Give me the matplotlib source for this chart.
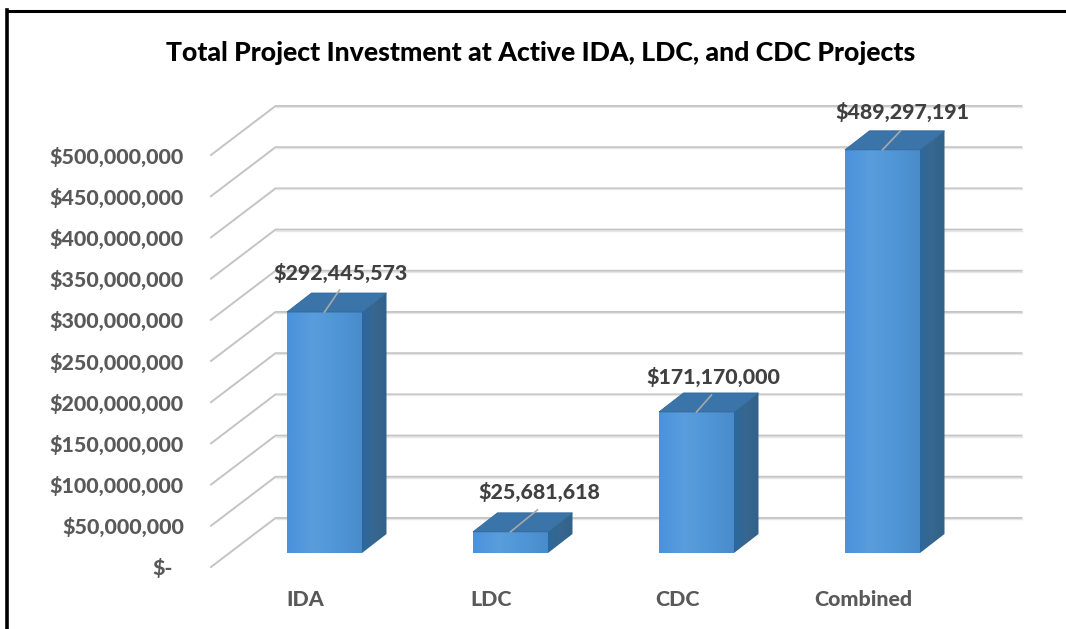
import numpy as np
import matplotlib
matplotlib.use("Agg")
import matplotlib.pyplot as plt
from matplotlib.colors import LinearSegmentedColormap
from matplotlib.patches import Polygon

categories = ["IDA", "LDC", "CDC", "Combined"]
values = [292445573, 25681618, 171170000, 489297191]
value_labels = ["$292,445,573", "$25,681,618", "$171,170,000", "$489,297,191"]
tick_values = [0, 50000000, 100000000, 150000000, 200000000, 250000000,
               300000000, 350000000, 400000000, 450000000, 500000000]
tick_labels = ["$-", "$50,000,000", "$100,000,000", "$150,000,000", "$200,000,000",
               "$250,000,000", "$300,000,000", "$350,000,000", "$400,000,000",
               "$450,000,000", "$500,000,000"]
title = "Total Project Investment at Active IDA, LDC, and CDC Projects"

W, H = 1066, 629
px_per_dollar = 41.2 / 50000000
px_per_cat = 186.0
bar_w = 75 / px_per_cat

# hand placed data labels and leader ends, pixels from the top centre of each bar
label_dx = [16.5, 28.5, 17, 19.5]
label_dy = [39, 40, 35, 38]
leader_dx = [15, 27, 15, 18]
leader_dy = [22, 22, 17, 19]

plt.rcParams["font.family"] = ["Lato", "DejaVu Sans"]
fig = plt.figure(figsize=(W / 100, H / 100), dpi=100)
ax = fig.add_axes([0, 0, 1, 1])
ax.axis("off")

# full figure axes, base of the bars sits 553 px down, first bar centre 324.5 px across
ax.set_xlim(-324.5 / px_per_cat, (W - 324.5) / px_per_cat)
ax.set_ylim(-(H - 553) / px_per_dollar, 553 / px_per_dollar)


def dx(px):
    return px / px_per_cat


def dy(px):
    return px / px_per_dollar


# the front floor edge is 14 px below the bars, the back wall 49 px above that
front_x, front_y = -113.5, -14
depth_x, depth_y = 64.5, 49
wall_w = 746

for v in tick_values:
    x0 = dx(front_x)
    y0 = v + dy(front_y)
    x1 = x0 + dx(depth_x)
    y1 = y0 + dy(depth_y)
    ax.plot([x0, x1, x1 + dx(wall_w)], [y0, y1, y1], color="#c4c4c4", lw=1.4,
            solid_joinstyle="miter", zorder=1)
    ax.plot([x1, x1 + dx(wall_w)], [y1 - dy(1), y1 - dy(1)], color="#e6e6e6", lw=1, zorder=1)

for v, lab in zip(tick_values, tick_labels):
    right = dx(-140.5) if v > 0 else dx(-151.5)
    ax.text(right, v + dy(front_y - 1.5), lab, ha="right", va="center", fontsize=15.4,
            fontweight="black", color="#595959", zorder=5)

front_cmap = LinearSegmentedColormap.from_list("front", ["#4a92dc", "#5a9ddc", "#5096d6", "#4a8ccb"])
side_cmap = LinearSegmentedColormap.from_list("side", ["#2c689d", "#37678f", "#31628a"])
grad = np.linspace(0, 1, 64).reshape(1, -1)
bar_dx, bar_dy = dx(24.5), dy(19)

for i, v in enumerate(values):
    l, r = i - bar_w / 2, i + bar_w / 2
    ax.imshow(grad, cmap=front_cmap, extent=[l, r, 0, v], aspect="auto", zorder=3)
    top = Polygon([(l, v), (r, v), (r + bar_dx, v + bar_dy), (l + bar_dx, v + bar_dy)],
                  facecolor="#3a74a8", edgecolor="#34699a", lw=0.6, zorder=3)
    ax.add_patch(top)
    side = Polygon([(r, 0), (r + bar_dx, bar_dy), (r + bar_dx, v + bar_dy), (r, v)],
                   facecolor="none", edgecolor="none", zorder=3)
    ax.add_patch(side)
    img = ax.imshow(grad, cmap=side_cmap, extent=[r, r + bar_dx, 0, v + bar_dy],
                    aspect="auto", zorder=3)
    img.set_clip_path(side)
    # leader line from the top of the bar up to the label
    ax.plot([i, i + dx(leader_dx[i])], [v, v + dy(leader_dy[i])], color="#a9a9a9", lw=1.2, zorder=4)
    ax.text(i + dx(label_dx[i]), v + dy(label_dy[i]), value_labels[i], ha="center", va="center",
            fontsize=15.4, fontweight="black", color="#404040", zorder=5)

for i, cat in enumerate(categories):
    ax.text(i - dx(19.5), dy(-46.5), cat, ha="center", va="center", fontsize=15.4,
            fontweight="black", color="#595959", zorder=5)

ax.set_xlim(-324.5 / px_per_cat, (W - 324.5) / px_per_cat)
ax.set_ylim(-(H - 553) / px_per_dollar, 553 / px_per_dollar)

fig.text(540.5 / W, 1 - 53 / H, title, ha="center", va="center", fontsize=19.2,
         fontweight="black", color="black")

# black frame along the top and left edge of the picture
ax.plot([dx(-318), dx(W - 324.5)], [dy(542), dy(542)], color="black", lw=2.2, zorder=6)
ax.plot([dx(-318), dx(-318)], [dy(543), dy(-76)], color="black", lw=2.6, zorder=6)

fig.savefig("out.png", dpi=100)
plt.close(fig)
